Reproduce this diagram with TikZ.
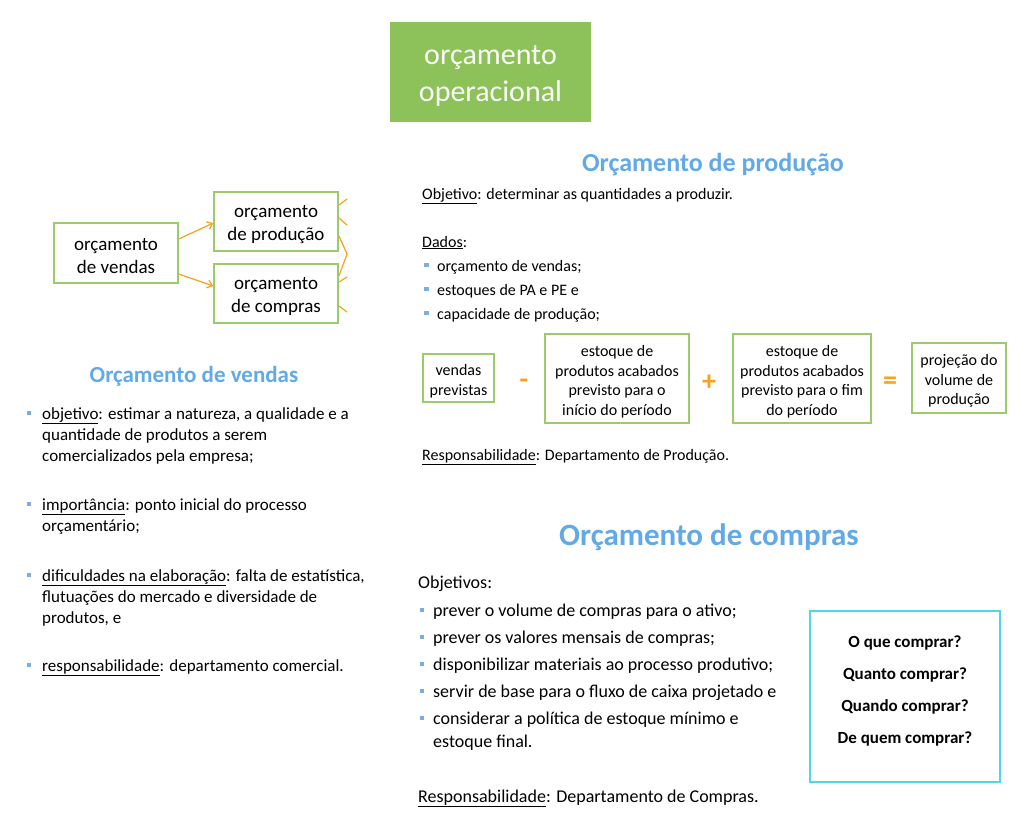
\documentclass[tikz,border=0pt]{standalone}
\usepackage{fontspec}
\setmainfont{Carlito}
\usetikzlibrary{arrows.meta}
\definecolor{tgreen}{HTML}{8DC15A}
\definecolor{bgreen}{HTML}{9CCB6C}
\definecolor{hblue}{HTML}{62A9E8}
\definecolor{orng}{HTML}{F9A11B}
\definecolor{cyanb}{HTML}{52D6E8}
\definecolor{bul}{HTML}{78AEE0}
\newcommand{\fsz}[2]{\fontsize{#1}{#2}\selectfont}
\begin{document}
\begin{tikzpicture}[x=1pt,y=-1pt,
  gbox/.style={draw=bgreen, line width=1.5pt, inner sep=0pt},
  btxt/.style={align=center, inner sep=0pt, yshift=-3pt},
  lt/.style={anchor=west, inner sep=0pt, text height=0.75em, text depth=0.25em, yshift=-3.5pt},
  bl/.style={fill=bul, minimum size=4.5pt, inner sep=0pt},
  hd/.style={text=hblue, inner sep=0pt, yshift=-3pt},
  arr/.style={draw=orng, line width=1.2pt, -{Straight Barb[length=5pt,width=8pt]}},
  stub/.style={draw=orng, line width=1.2pt},
  op/.style={text=orng, inner sep=0pt, font=\bfseries\fsz{28}{30}, yshift=-3pt}]
\useasboundingbox (0,0) rectangle (1027,825);
\fill[white] (0,0) rectangle (1027,825);

% title
\node[fill=tgreen, minimum width=201pt, minimum height=100pt, inner sep=0pt] (title) at (490.5,72) {};
\node[btxt, yshift=-1pt, text=white!96!tgreen, font=\fsz{30}{37}] (titletxt) at (title.center) {orçamento\\operacional};

% left diagram
\node[gbox, minimum width=124pt, minimum height=60pt] (vend) at (116,253) {};
\node[gbox, minimum width=124pt, minimum height=59pt] (prod) at (276,221.5) {};
\node[gbox, minimum width=124pt, minimum height=59pt] (comp) at (276,293.5) {};
\node[btxt, font=\fsz{19}{23}] (vendt) at (vend.center) {orçamento\\de vendas};
\node[btxt, font=\fsz{19}{23}] (prodt) at (prod.center) {orçamento\\de produção};
\node[btxt, font=\fsz{19}{23}] (compt) at (comp.center) {orçamento\\de compras};
\draw[arr] (vend.east |- 0,239) -- (prod.west |- 0,223);
\draw[arr] (vend.east |- 0,274) -- (comp.west |- 0,286);
\coordinate (s1a) at (339,205); \coordinate (s1b) at (347,199);
\coordinate (s2a) at (339,218); \coordinate (s2b) at (347,225);
\coordinate (s3a) at (339,236); \coordinate (s3b) at (347,254); \coordinate (s3c) at (339,276);
\coordinate (s4a) at (339,282); \coordinate (s4b) at (347,277);
\coordinate (s5a) at (339,306); \coordinate (s5b) at (347,312);
\draw[stub] (s1a) -- (s1b);
\draw[stub] (s2a) -- (s2b);
\draw[stub] (s3a) -- (s3b) -- (s3c);
\draw[stub] (s4a) -- (s4b);
\draw[stub] (s5a) -- (s5b);

% Orçamento de vendas
\node[hd, font=\bfseries\fsz{23}{28}] (hv) at (194,373) {Orçamento de vendas};
\begin{scope}[every node/.append style={font=\fsz{17}{21}}]
\node[bl] (vb1) at (29,413) {};
\node[lt] (v1) at (42,413) {\underline{objetivo}: estimar a natureza, a qualidade e a};
\node[lt] (v2) at (42,434) {quantidade de produtos a serem};
\node[lt] (v3) at (42,455) {comercializados pela empresa;};
\node[bl] (vb2) at (29,504) {};
\node[lt] (v4) at (42,504) {\underline{importância}: ponto inicial do processo};
\node[lt] (v5) at (42,525) {orçamentário;};
\node[bl] (vb3) at (29,575) {};
\node[lt] (v6) at (42,575) {\underline{dificuldades na elaboração}: falta de estatística,};
\node[lt] (v7) at (42,596) {flutuações do mercado e diversidade de};
\node[lt] (v8) at (42,617) {produtos, e};
\node[bl] (vb4) at (29,665) {};
\node[lt] (v9) at (42,665) {\underline{responsabilidade}: departamento comercial.};
\end{scope}

% Orçamento de produção
\node[hd, font=\bfseries\fsz{26}{31}] (hp) at (713,162) {Orçamento de produção};
\begin{scope}[every node/.append style={font=\fsz{16}{19.5}}]
\node[lt] (p1) at (422,193) {\underline{Objetivo}: determinar as quantidades a produzir.};
\node[lt] (p2) at (422,241) {\underline{Dados}:};
\node[bl] (pb1) at (426.5,265) {};
\node[lt] (p3) at (437,265) {orçamento de vendas;};
\node[bl] (pb2) at (426.5,289) {};
\node[lt] (p4) at (437,289) {estoques de PA e PE e};
\node[bl] (pb3) at (426.5,313) {};
\node[lt] (p5) at (437,313) {capacidade de produção;};
\node[lt] (p6) at (422,454) {\underline{Responsabilidade}: Departamento de Produção.};
\node[gbox, minimum width=71pt, minimum height=48pt] (e1) at (458.5,378) {};
\node[gbox, minimum width=144pt, minimum height=89pt] (e2) at (617,378.5) {};
\node[gbox, minimum width=138pt, minimum height=89pt] (e3) at (802,378.5) {};
\node[gbox, minimum width=94pt, minimum height=70pt] (e4) at (959,378) {};
\node[btxt] (e1t) at (e1.center) {vendas\\previstas};
\node[btxt] (e2t) at (e2.center) {estoque de\\produtos acabados\\previsto para o\\início do período};
\node[btxt] (e3t) at (e3.center) {estoque de\\produtos acabados\\previsto para o fim\\do período};
\node[btxt] (e4t) at (e4.center) {projeção do\\volume de\\produção};
\end{scope}
\node[op] (minus) at (524,381) {-};
\node[op] (plus) at (709,380) {+};
\node[op] (eq) at (890,380) {=};

% Orçamento de compras
\node[hd, font=\bfseries\fsz{31}{37}] (hc) at (709,534) {Orçamento de compras};
\begin{scope}[every node/.append style={font=\fsz{18}{22}}]
\node[lt] (c0) at (418,582) {Objetivos:};
\node[bl] (cb1) at (422,610) {};
\node[lt] (c1) at (433,610) {prever o volume de compras para o ativo;};
\node[bl] (cb2) at (422,637) {};
\node[lt] (c2) at (433,637) {prever os valores mensais de compras;};
\node[bl] (cb3) at (422,664) {};
\node[lt] (c3) at (433,664) {disponibilizar materiais ao processo produtivo;};
\node[bl] (cb4) at (422,691) {};
\node[lt] (c4) at (433,691) {servir de base para o fluxo de caixa projetado e};
\node[bl] (cb5) at (422,718) {};
\node[lt] (c5) at (433,718) {considerar a política de estoque mínimo e};
\node[lt] (c6) at (433,741) {estoque final.};
\node[lt] (c7) at (418,796) {\underline{Responsabilidade}: Departamento de Compras.};
\end{scope}
\node[draw=cyanb, line width=1.5pt, minimum width=190pt, minimum height=171pt, inner sep=0pt] (qbox) at (905,696.5) {};
\node[btxt, font=\bfseries\fsz{17}{32}] (qtext) at (905,688) {O que comprar?\\Quanto comprar?\\Quando comprar?\\De quem comprar?};
\end{tikzpicture}
\end{document}
